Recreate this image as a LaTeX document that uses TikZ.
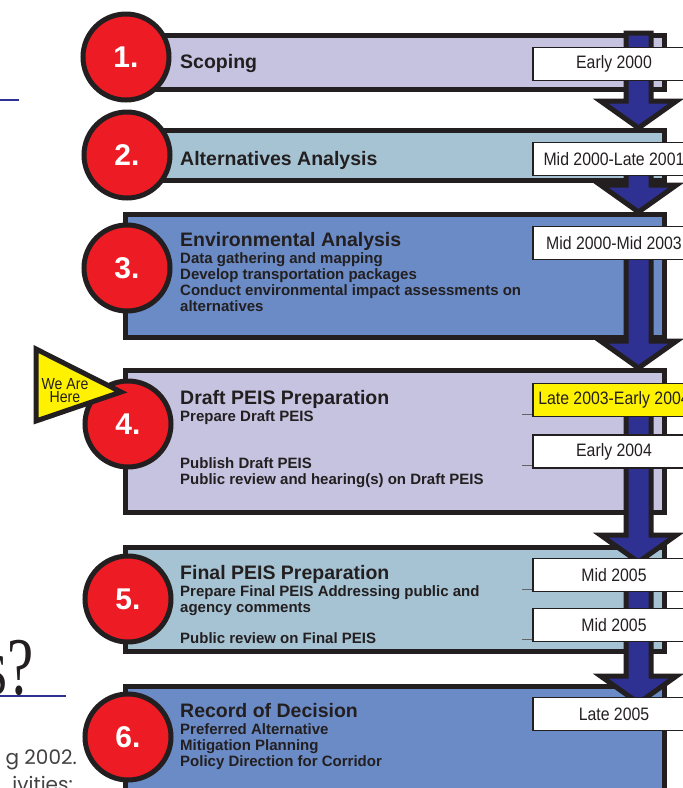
\documentclass[tikz,border=0pt]{standalone}
\usepackage{fontspec}
\setmainfont{Liberation Sans}
\newfontfamily\datefont[FakeStretch=0.88]{Liberation Sans}
\newfontfamily\bigserif[FakeStretch=0.72]{Liberation Serif}
\newfontfamily\pagefont{Poppins}
\usepackage{tikz}
\usetikzlibrary{positioning,calc}

\definecolor{lavender}{HTML}{C5C3E0}
\definecolor{paleblue}{HTML}{A5C3D3}
\definecolor{midblue}{HTML}{6A8BC6}
\definecolor{stepred}{HTML}{ED1C24}
\definecolor{navy}{HTML}{2E3192}
\definecolor{hereyellow}{HTML}{FFF200}
\definecolor{ink}{HTML}{231F20}

\tikzset{
    stage-box/.style = {draw=ink, line width=5pt, rectangle, anchor=north west, inner sep=0pt},
    stage-circle/.style = {draw=ink, fill=stepred, line width=5pt, circle, minimum size=86pt, inner sep=0pt, text=white, font=\bfseries\fontsize{30}{30}\selectfont},
    stage-title/.style = {anchor=base west, inner sep=0pt, text=ink, font=\bfseries\fontsize{19.5}{20}\selectfont},
    stage-items/.style = {align=left, inner sep=0pt, text=ink, font=\bfseries\fontsize{15}{16}\selectfont},
    date-box/.style = {draw=ink, fill=white, line width=1.5pt, rectangle, minimum width=162pt, minimum height=33pt, inner sep=0pt, text=ink, font=\datefont\fontsize{18}{18}\selectfont},
    date-tick/.style = {draw=ink!70, line width=1pt},
    flow-arrow/.style = {draw=ink, fill=navy, line width=5pt, line join=miter},
    here-flag/.style = {draw=ink, fill=hereyellow, line width=5pt, line join=miter},
    page-line/.style = {draw=navy, line width=1.2pt},
}

\newcommand\stagearrow[2]{%
    \draw[flow-arrow] let \p1 = #1, \p2 = #2 in
        (\x1-12.5pt,\y1) -- (\x1+12.5pt,\y1) -- (\x1+12.5pt,\y2+27pt)
        -- (\x1+38pt,\y2+27pt) -- (\x2,\y2) -- (\x1-38pt,\y2+27pt)
        -- (\x1-12.5pt,\y2+27pt) -- cycle;
}

\begin{document}
\begin{tikzpicture}[x=1pt, y=-1pt]
\useasboundingbox (0,0) rectangle (683,788);
\fill[white] (0,0) rectangle (683,788);

% left page fragments
\draw[page-line] (-5,100) -- (19,100);
\node[anchor=base east, inner sep=0pt, text=ink, font=\bigserif\fontsize{82}{82}\selectfont] (question) at (34,694) {s?};
\draw[page-line] (-5,696) -- (66,696);
\node[anchor=base east, inner sep=0pt, text=ink!85, font=\pagefont\fontsize{20}{20}\selectfont] (year) at (77,764) {g 2002.};
\node[anchor=base east, inner sep=0pt, text=ink!85, font=\pagefont\fontsize{20}{20}\selectfont] (acts) at (73,791) {ivities:};

% stages
\node[stage-box, fill=lavender, minimum width=514pt, minimum height=54pt] (s1) at (148,33) {};
\node[stage-box, fill=paleblue, minimum width=514pt, minimum height=50pt] (s2) at (148,128) {};
\node[stage-box, fill=midblue, minimum width=539pt, minimum height=123pt] (s3) at (123,212) {};
\node[stage-box, fill=lavender, minimum width=539pt, minimum height=142pt] (s4) at (123,368) {};
\node[stage-box, fill=paleblue, minimum width=539pt, minimum height=104pt] (s5) at (123,545) {};
\node[stage-box, fill=midblue, minimum width=539pt, minimum height=171pt] (s6) at (123,684) {};

\coordinate (shaft) at (638.5,0);
\stagearrow{(s1.north -| shaft)}{(s2.north -| shaft)}
\stagearrow{($(s2.north -| shaft)+(0,20)$)}{(s3.north -| shaft)}
\stagearrow{($(s3.north -| shaft)+(0,30)$)}{(s4.north -| shaft)}
\stagearrow{($(s4.north -| shaft)+(0,20)$)}{($(s5.north -| shaft)+(0,17)$)}
\stagearrow{($(s5.north -| shaft)+(0,30)$)}{($(s6.north -| shaft)+(0,19)$)}

% dates
\node[date-box] (d1) at (614,64) {Early 2000};
\node[date-box] (d2) at (614,159) {Mid 2000-Late 2001};
\node[date-box] (d3) at (614,243) {Mid 2000-Mid 2003};
\node[date-box, fill=hereyellow] (d4a) at (614,400) {Late 2003-Early 2004};
\node[date-box] (d4b) at (614,451.5) {Early 2004};
\node[date-box] (d5a) at (614,575) {Mid 2005};
\node[date-box] (d5b) at (614,625) {Mid 2005};
\node[date-box] (d6) at (614,714) {Late 2005};
\draw[date-tick] ([yshift=3pt]d4a.south west) -- ++(-10,0);
\draw[date-tick] ([yshift=3pt]d4b.south west) -- ++(-10,0);
\draw[date-tick] ([yshift=3pt]d5a.south west) -- ++(-10,0);
\draw[date-tick] ([yshift=3pt]d5b.south west) -- ++(-10,0);

\node[stage-circle] (c1) at (126,57) {1.};
\node[stage-circle] (c2) at (127,155) {2.};
\node[stage-circle] (c3) at (127,268) {3.};
\node[stage-circle] (c4) at (128,424) {4.};
\node[stage-circle] (c5) at (128,599) {5.};
\node[stage-circle] (c6) at (128,737) {6.};

\draw[here-flag] (36,349) -- (121,392) -- (36,421) -- cycle;
\node[align=center, inner sep=0pt, text=ink, font=\datefont\fontsize{16}{13}\selectfont] (here) at (65,391) {We Are\\Here};

% stage texts
\node[stage-title] (t1) at (180,68) {Scoping};
\node[stage-title] (t2) at (180,165) {Alternatives Analysis};
\node[stage-title] (t3) at (180,246) {Environmental Analysis};
\node[stage-items, below=6pt of t3.base west, anchor=north west] (i3) {Data gathering and mapping\\Develop transportation packages\\Conduct environmental impact assessments on\\alternatives};
\node[stage-title] (t4) at (180,404) {Draft PEIS Preparation};
\node[stage-items, below=6pt of t4.base west, anchor=north west] (i4) {Prepare Draft PEIS\\[31pt]Publish Draft PEIS\\Public review and hearing(s) on Draft PEIS};
\node[stage-title] (t5) at (180,579) {Final PEIS Preparation};
\node[stage-items, below=6pt of t5.base west, anchor=north west] (i5) {Prepare Final PEIS Addressing public and\\agency comments\\[15pt]Public review on Final PEIS};
\node[stage-title] (t6) at (180,717) {Record of Decision};
\node[stage-items, below=6pt of t6.base west, anchor=north west] (i6) {Preferred Alternative\\Mitigation Planning\\Policy Direction for Corridor};
\end{tikzpicture}
\end{document}
